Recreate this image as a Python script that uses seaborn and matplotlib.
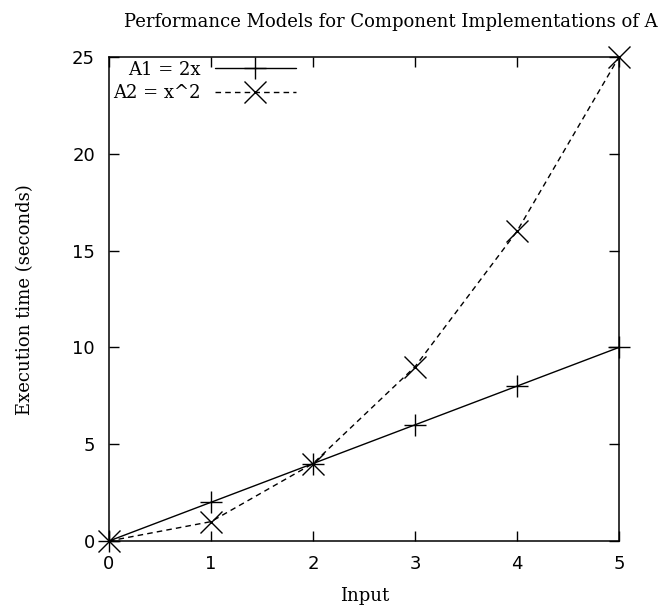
import matplotlib
matplotlib.use("Agg")
import matplotlib.pyplot as plt
import seaborn as sns
import pandas as pd

x_input = [0, 1, 2, 3, 4, 5]
a1_values = [0, 2, 4, 6, 8, 10]
a2_values = [0, 1, 4, 9, 16, 25]
series_labels = ["A1 = 2x", "A2 = x^2"]
x_ticks = [0, 1, 2, 3, 4, 5]
y_ticks = [0, 5, 10, 15, 20, 25]

sns.set_style("white")
plt.rcParams['font.family'] = ['DejaVu Serif']
plt.rcParams['text.color'] = 'black'

fig = plt.figure(figsize=(6.64, 6.12), dpi=100)
ax = fig.add_axes([109/664, 1 - 541/612, (619-109)/664, (541-57)/612])

df1 = pd.DataFrame({"x": x_input, "y": a1_values})
df2 = pd.DataFrame({"x": x_input, "y": a2_values})
sns.lineplot(data=df1, x="x", y="y", ax=ax, color="black", linewidth=1.0,
             marker="+", markersize=16, markeredgewidth=1.0, markeredgecolor="black",
             label=series_labels[0], clip_on=False, zorder=3)
sns.lineplot(data=df2, x="x", y="y", ax=ax, color="black", linewidth=1.0,
             linestyle=(0, (4, 3)), marker="x", markersize=16, markeredgewidth=1.0,
             markeredgecolor="black", label=series_labels[1], clip_on=False, zorder=3)

ax.set_xlim(0, 5)
ax.set_ylim(0, 25)
ax.set_xticks(x_ticks)
ax.set_yticks(y_ticks)
for lab in ax.get_xticklabels() + ax.get_yticklabels():
    lab.set_family("DejaVu Sans")
    lab.set_fontsize(13)
ax.tick_params(direction="in", length=7, width=1, top=True, right=True,
               bottom=True, left=True, pad=10, colors="black")
for s in ax.spines.values():
    s.set_visible(True)
    s.set_color("black")
    s.set_linewidth(1.1)

ax.set_xlabel("")
ax.set_ylabel("")
fig.text(365/664, 1 - 596/612, "Input", ha="center", va="center", fontsize=13, color="black")
fig.text(25/664, 1 - 300/612, "Execution time (seconds)", ha="center", va="center",
         rotation=90, fontsize=13, color="black")
fig.text(391/664, 1 - 22/612, "Performance Models for Component Implementations of A",
         ha="center", va="center", fontsize=13, color="black")

leg = ax.legend(loc="upper left", frameon=False, markerfirst=False, handlelength=4.5,
                fontsize=13, borderaxespad=0.1, borderpad=0.1, labelspacing=0.3,
                handletextpad=0.8)
for t in leg.get_texts():
    t.set_color("black")

fig.savefig("out.png", dpi=100, facecolor="white")
